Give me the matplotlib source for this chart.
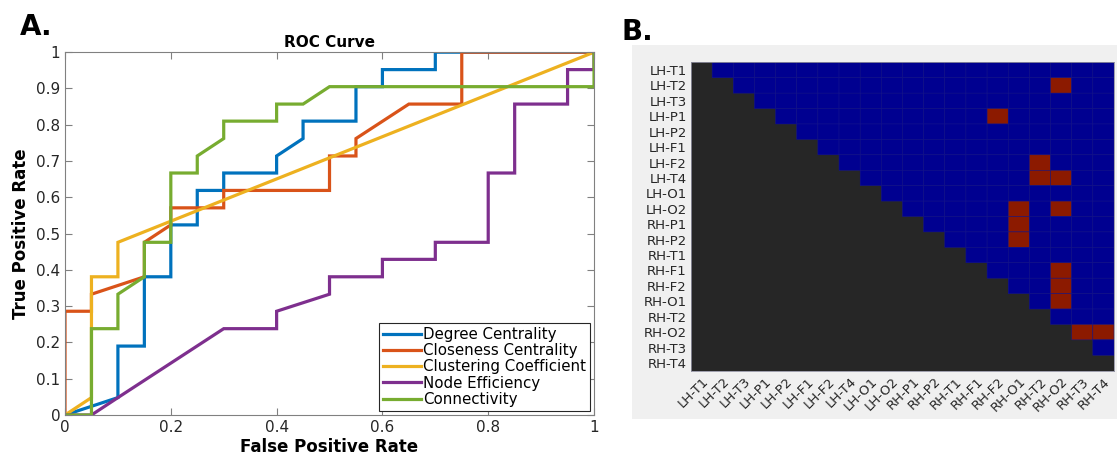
import numpy as np
import matplotlib
matplotlib.use("Agg")
import matplotlib.pyplot as plt
from matplotlib.colors import ListedColormap
from matplotlib.patches import Rectangle

# ROC curves (FPR, TPR)
degree_fpr = [0, 0.1, 0.1, 0.15, 0.15, 0.2, 0.2, 0.25, 0.25, 0.3, 0.3, 0.4, 0.4, 0.45, 0.45, 0.55, 0.55, 0.6, 0.6, 0.7, 0.7, 1]
degree_tpr = [0, 0.048, 0.190, 0.190, 0.381, 0.381, 0.524, 0.524, 0.619, 0.619, 0.667, 0.667, 0.714, 0.762, 0.810, 0.810, 0.905, 0.905, 0.952, 0.952, 1, 1]

closeness_fpr = [0, 0, 0.05, 0.05, 0.15, 0.15, 0.2, 0.2, 0.3, 0.3, 0.5, 0.5, 0.55, 0.55, 0.65, 0.75, 0.75, 1]
closeness_tpr = [0, 0.286, 0.286, 0.333, 0.381, 0.476, 0.524, 0.571, 0.571, 0.619, 0.619, 0.714, 0.714, 0.762, 0.857, 0.857, 1, 1]

clustering_fpr = [0, 0.05, 0.05, 0.1, 0.1, 1]
clustering_tpr = [0, 0.048, 0.381, 0.381, 0.476, 1]

efficiency_fpr = [0, 0.05, 0.1, 0.3, 0.4, 0.4, 0.5, 0.5, 0.6, 0.6, 0.7, 0.7, 0.8, 0.8, 0.85, 0.85, 0.95, 0.95, 1, 1]
efficiency_tpr = [0, 0, 0.048, 0.238, 0.238, 0.286, 0.333, 0.381, 0.381, 0.429, 0.429, 0.476, 0.476, 0.667, 0.667, 0.857, 0.857, 0.952, 0.952, 1]

connect_fpr = [0, 0.05, 0.05, 0.1, 0.1, 0.15, 0.15, 0.2, 0.2, 0.25, 0.25, 0.3, 0.3, 0.4, 0.4, 0.45, 0.5, 1, 1]
connect_tpr = [0, 0, 0.238, 0.238, 0.333, 0.381, 0.476, 0.476, 0.667, 0.667, 0.714, 0.762, 0.810, 0.810, 0.857, 0.857, 0.905, 0.905, 1]

curve_names = ["Degree Centrality", "Closeness Centrality", "Clustering Coefficient",
               "Node Efficiency", "Connectivity"]
curve_colors = ["#0072BD", "#D95319", "#EDB120", "#7E2F8E", "#77AC30"]

# panel B: regions and significant pairs (row, col) in the upper triangle
regions = ["LH-T1", "LH-T2", "LH-T3", "LH-P1", "LH-P2", "LH-F1", "LH-F2", "LH-T4", "LH-O1", "LH-O2",
           "RH-P1", "RH-P2", "RH-T1", "RH-F1", "RH-F2", "RH-O1", "RH-T2", "RH-O2", "RH-T3", "RH-T4"]
sig_rows = [1, 3, 6, 7, 7, 9, 9, 10, 11, 13, 14, 15, 17, 17]
sig_cols = [17, 14, 16, 16, 17, 15, 17, 15, 15, 17, 17, 17, 18, 19]

fig = plt.figure(figsize=(11.17, 4.66), dpi=100)

# ---- panel A ----
ax = fig.add_axes([0.0582, 0.1094, 0.4736, 0.7786])
curves = [(degree_fpr, degree_tpr), (closeness_fpr, closeness_tpr), (clustering_fpr, clustering_tpr),
          (efficiency_fpr, efficiency_tpr), (connect_fpr, connect_tpr)]
for (fx, ty), name, col in zip(curves, curve_names, curve_colors):
    ax.plot(fx, ty, color=col, lw=2.3, label=name, solid_joinstyle="miter")
ax.set_xlim(0, 1)
ax.set_ylim(0, 1)
ax.set_xticks(np.arange(0, 1.01, 0.2))
ax.set_xticklabels(["0", "0.2", "0.4", "0.6", "0.8", "1"])
ax.set_yticks(np.arange(0, 1.01, 0.1))
ax.set_yticklabels(["0", "0.1", "0.2", "0.3", "0.4", "0.5", "0.6", "0.7", "0.8", "0.9", "1"])
ax.tick_params(direction="in", top=True, right=True, labelsize=11, colors="#808080",
               labelcolor="#262626", length=5)
for s in ax.spines.values():
    s.set_color("#808080")
ax.set_title("ROC Curve", fontsize=11, fontweight="bold", pad=4)
ax.set_xlabel("False Positive Rate", fontsize=12, fontweight="bold", labelpad=2)
ax.set_ylabel("True Positive Rate", fontsize=12, fontweight="bold", labelpad=4)
leg = ax.legend(loc="lower right", fontsize=10.8, fancybox=False, framealpha=1,
                edgecolor="#262626", handlelength=2.5, handletextpad=0.15,
                borderpad=0.25, labelspacing=0.08, borderaxespad=0.3)
leg.get_frame().set_linewidth(0.8)
fig.text(0.018, 0.925, "A.", fontsize=20, fontweight="bold")

# ---- panel B ----
fig.patches.append(Rectangle((0.5658, 0.1009), 0.4342, 0.8026, transform=fig.transFigure,
                             facecolor="#f0f0f0", edgecolor="none", zorder=-1))
fig.text(0.556, 0.915, "B.", fontsize=20, fontweight="bold")

n = len(regions)
mat = np.zeros((n, n))
for i in range(n):
    for j in range(i + 1, n):
        mat[i, j] = 1
for r, c in zip(sig_rows, sig_cols):
    mat[r, c] = 2
mat = np.ma.masked_where(mat == 0, mat)

axh = fig.add_axes([0.6186, 0.2045, 0.3787, 0.6618])
axh.set_facecolor("#262626")
axh.pcolor(np.arange(n + 1), np.arange(n + 1), mat,
           cmap=ListedColormap(["#000090", "#8c1a00"]), vmin=0.5, vmax=2.5,
           edgecolors="#15158f", linewidth=0.35)
axh.set_xlim(0, n)
axh.set_ylim(n, 0)
axh.set_xticks(np.arange(n) + 0.5)
axh.set_xticklabels(regions, rotation=45, ha="right", rotation_mode="anchor", fontsize=9.5,
                    color="#262626")
axh.set_yticks(np.arange(n) + 0.5)
axh.set_yticklabels(regions, fontsize=9.5, color="#262626")
axh.tick_params(length=0, pad=3)
for s in axh.spines.values():
    s.set_color("#9090a0")
    s.set_linewidth(0.6)

fig.savefig("out.png", dpi=100)
